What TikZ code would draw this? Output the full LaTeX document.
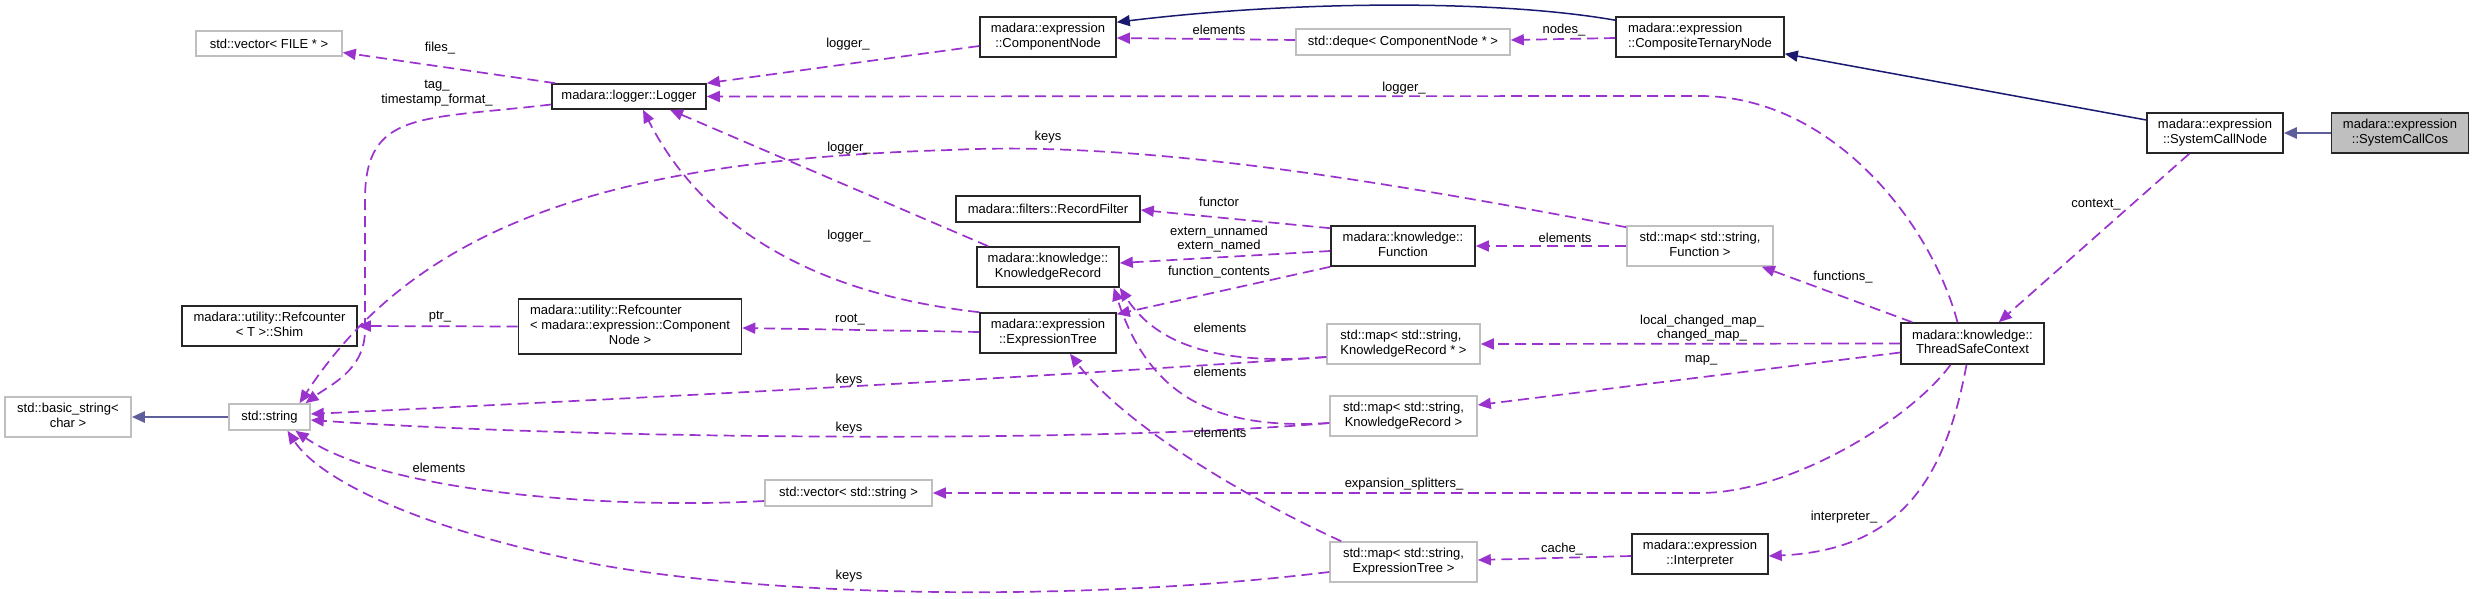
\documentclass[tikz,border=0pt]{standalone}
\usepackage{fontspec}
\setmainfont{Liberation Sans}
\usetikzlibrary{arrows.meta,calc}
\definecolor{orch}{RGB}{154,50,205}
\definecolor{mnb}{RGB}{25,25,112}
\definecolor{gb}{RGB}{191,191,191}
\newcommand{\dxl}[2]{\begin{tabular}{@{}l@{}}#1\\\multicolumn{1}{@{}c@{}}{#2}\end{tabular}}
\newcommand{\dxlll}[3]{\begin{tabular}{@{}l@{}}#1\\#2\\\multicolumn{1}{@{}c@{}}{#3}\end{tabular}}
\begin{document}
\begin{tikzpicture}[x=1pt,y=-1pt,
  every node/.style={font=\fontsize{13}{14.7}\selectfont},
  cls/.style={draw=black!85, line width=1.6pt, fill=white, inner sep=0pt},
  ext/.style={draw=gb, line width=1.6pt, fill=white, inner sep=0pt},
  cur/.style={draw=black!85, line width=1.6pt, fill=gb, inner sep=0pt},
  usedge/.style={orch, line width=1.7pt, dash pattern=on 11pt off 6pt, -{Triangle[length=13pt,width=11pt]}},
  inh/.style={mnb, line width=1.5pt, -{Triangle[length=13pt,width=11pt]}},
  inhd/.style={mnb!70, line width=2.6pt, -{Triangle[length=13pt,width=11pt]}},
  lbl/.style={inner sep=0pt, text=black}]
\useasboundingbox[fill=white] (0,0) rectangle (2473,599);

% nodes
\node[ext, minimum width=146pt, minimum height=25pt] (vfile) at (269,43.5) {std::vector< FILE * >};
\node[cls, minimum width=154pt, minimum height=25pt] (logger) at (629,96.5) {madara::logger::Logger};
\node[cls, minimum width=136pt, minimum height=40pt] (compnode) at (1048,37) {\dxl{madara::expression}{::ComponentNode}};
\node[ext, minimum width=214pt, minimum height=26pt] (deque) at (1403,42) {std::deque< ComponentNode * >};
\node[cls, minimum width=168pt, minimum height=40pt] (ternary) at (1700,37) {\dxl{madara::expression}{::CompositeTernaryNode}};
\node[cls, minimum width=136pt, minimum height=40pt] (syscall) at (2215,133) {\dxl{madara::expression}{::SystemCallNode}};
\node[cur, minimum width=137pt, minimum height=40pt] (syscos) at (2400,133) {\dxl{madara::expression}{::SystemCallCos}};
\node[cls, minimum width=184pt, minimum height=26pt] (recfilter) at (1048,209) {madara::filters::RecordFilter};
\node[cls, minimum width=142pt, minimum height=40pt] (krec) at (1048,267) {\dxl{madara::knowledge::}{KnowledgeRecord}};
\node[cls, minimum width=144pt, minimum height=40pt] (func) at (1403,246) {\dxl{madara::knowledge::}{Function}};
\node[ext, minimum width=146pt, minimum height=40pt] (mapfunc) at (1700,246) {\dxl{std::map< std::string,}{Function >}};
\node[cls, minimum width=175pt, minimum height=40pt] (shim) at (269.5,326) {\dxl{madara::utility::Refcounter}{< T >::Shim}};
\node[cls, minimum width=223pt, minimum height=55pt] (refcn) at (630,326.5) {\dxlll{madara::utility::Refcounter}{< madara::expression::Component}{Node >}};
\node[cls, minimum width=136pt, minimum height=40pt] (exptree) at (1048,333) {\dxl{madara::expression}{::ExpressionTree}};
\node[ext, minimum width=153pt, minimum height=40pt] (mapkrp) at (1403.5,344) {\dxl{std::map< std::string,}{KnowledgeRecord * >}};
\node[cls, minimum width=143pt, minimum height=41pt] (tsc) at (1972.5,343.5) {\dxl{madara::knowledge::}{ThreadSafeContext}};
\node[ext, minimum width=147pt, minimum height=40pt] (mapkr) at (1403.5,416) {\dxl{std::map< std::string,}{KnowledgeRecord >}};
\node[ext, minimum width=126pt, minimum height=40pt] (basicstr) at (68,417) {\dxl{std::basic\_string<}{char >}};
\node[ext, minimum width=81pt, minimum height=26pt] (string) at (269.5,417) {std::string};
\node[ext, minimum width=167pt, minimum height=26pt] (vecstr) at (848.5,493) {std::vector< std::string >};
\node[ext, minimum width=147pt, minimum height=40pt] (mapet) at (1403.5,562) {\dxl{std::map< std::string,}{ExpressionTree >}};
\node[cls, minimum width=136pt, minimum height=40pt] (interp) at (1700,554) {\dxl{madara::expression}{::Interpreter}};

% inheritance
\draw[inhd] (syscos.west) -- (syscall.east);
\draw[inh] ($(syscall.west)+(0,-13)$) -- ($(ternary.south east)+(0,-4)$);
\draw[inh] ($(ternary.north west)+(0,4)$) .. controls (1500,0) and (1300,0) .. ($(compnode.north east)+(0,6)$);
\draw[inhd] (string.west) -- (basicstr.east);

% usage edges
\draw[usedge] ($(ternary.west)+(0,1)$) -- ($(deque.east)+(0,-2)$);
\draw[usedge] ($(deque.west)+(0,-2)$) -- ($(compnode.east)+(0,1)$);
\draw[usedge] ($(compnode.west)+(0,9)$) -- (logger.north east);
\draw[usedge] ($(tsc.north)+(-15,0)$) .. controls (1930,220) and (1830,96) .. (1700,96) -- (logger.east);
\draw[usedge] ($(krec.north west)+(12,0)$) -- ($(logger.south)+(41,0)$);
\draw[usedge] (exptree.north west) .. controls (870,300) and (720,260) .. ($(logger.south)+(14,0)$);
\draw[usedge] ($(func.north west)+(0,3)$) -- ($(recfilter.east)+(0,1)$);
\draw[usedge] ($(func.west)+(0,5)$) -- ($(krec.east)+(0,-4)$);
\draw[usedge] (func.south west) -- ($(exptree.north east)+(0,2)$);
\draw[usedge] (mapfunc.west) -- (func.east);
\draw[usedge] ($(tsc.north west)+(12,0)$) -- ($(mapfunc.south east)+(-12,0)$);
\draw[usedge] (tsc.west) -- (mapkrp.east);
\draw[usedge] ($(tsc.west)+(0,9)$) -- ($(mapkr.east)+(0,-11)$);
\draw[usedge] ($(tsc.south)+(-22,0)$) .. controls (1910,420) and (1790,493) .. (1700,493) -- (vecstr.east);
\draw[usedge] ($(tsc.south)+(-6,0)$) .. controls (1945,480) and (1900,550) .. ($(interp.east)+(0,2)$);
\draw[usedge] ($(interp.west)+(0,2)$) -- ($(mapet.east)+(0,-2)$);
\draw[usedge] ($(mapet.north west)+(12,0)$) .. controls (1230,490) and (1120,420) .. ($(exptree.south)+(22,0)$);
\draw[usedge] ($(mapkrp.west)+(0,13)$) .. controls (1230,365) and (1160,350) .. (krec.south east);
\draw[usedge] ($(mapkr.west)+(0,7)$) .. controls (1220,430) and (1150,400) .. ($(krec.south east)+(-6,0)$);
\draw[usedge] ($(mapkrp.west)+(0,13)$) .. controls (1000,380) and (600,400) .. ($(string.east)+(0,-3)$);
\draw[usedge] ($(mapkr.west)+(0,7)$) .. controls (1100,443) and (600,440) .. ($(string.east)+(0,3)$);
\draw[usedge] ($(mapet.west)+(0,10)$) .. controls (1100,600) and (800,600) .. (600,565) .. controls (420,530) and (320,480) .. ($(string.south)+(18,0)$);
\draw[usedge] ($(vecstr.west)+(0,8)$) .. controls (600,510) and (380,490) .. ($(string.south)+(26,0)$);
\draw[usedge] ($(mapfunc.north west)+(0,2)$) .. controls (1400,185) and (1150,140) .. (950,150) .. controls (620,160) and (420,220) .. ($(string.north)+(30,0)$);
\draw[usedge] ($(logger.west)+(0,8)$) .. controls (420,120) and (365,110) .. (365,200) -- (365,330) .. controls (365,370) and (330,385) .. ($(string.north)+(36,0)$);
\draw[usedge] ($(logger.north west)+(4,0)$) -- ($(vfile.east)+(0,9)$);
\draw[usedge] (refcn.west) -- (shim.east);
\draw[usedge] ($(exptree.west)+(0,-1)$) -- ($(refcn.east)+(0,1.5)$);
\draw[usedge] ($(syscall.south west)+(43,0)$) -- ($(tsc.north east)+(-46,0)$);

% labels
\node[lbl] (l1) at (1564,30) {nodes\_};
\node[lbl] (l2) at (1219,30) {elements};
\node[lbl] (l3) at (848,44) {logger\_};
\node[lbl] (l4) at (1404,88) {logger\_};
\node[lbl] (l5) at (1048,137) {keys};
\node[lbl] (l6) at (849,148) {logger\_};
\node[lbl] (l7) at (849,236) {logger\_};
\node[lbl] (l8) at (1219,202) {functor};
\node[lbl, align=center] (l9) at (1219,239) {extern\_unnamed\\extern\_named};
\node[lbl] (l10) at (1219,272) {function\_contents};
\node[lbl] (l11) at (1565,238) {elements};
\node[lbl] (l12) at (1843,277) {functions\_};
\node[lbl] (l13) at (2096,205) {context\_};
\node[lbl, align=center] (l14) at (1702,328) {local\_changed\_map\_\\changed\_map\_};
\node[lbl] (l15) at (1701,360) {map\_};
\node[lbl] (l16) at (1220,328) {elements};
\node[lbl] (l17) at (1220,372) {elements};
\node[lbl] (l18) at (1220,433) {elements};
\node[lbl] (l19) at (849,380) {keys};
\node[lbl] (l20) at (849,428) {keys};
\node[lbl] (l21) at (849,576) {keys};
\node[lbl] (l22) at (1404,484) {expansion\_splitters\_};
\node[lbl] (l23) at (1844,517) {interpreter\_};
\node[lbl] (l24) at (1562,549) {cache\_};
\node[lbl] (l25) at (850,320) {root\_};
\node[lbl] (l26) at (440,317) {ptr\_};
\node[lbl] (l27) at (439,468) {elements};
\node[lbl, align=center] (l28) at (437,93) {tag\_\\timestamp\_format\_};
\node[lbl] (l29) at (440,48) {files\_};
\end{tikzpicture}
\end{document}
